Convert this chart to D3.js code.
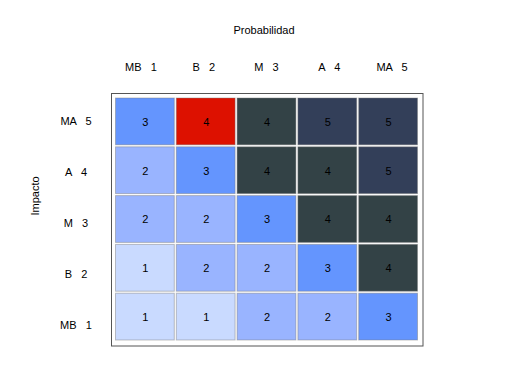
<!DOCTYPE html>
<html>
<head>
<meta charset="utf-8">
<style>
    body { margin: 0; background: #fff; }
    text { font-family: Arial, "Liberation Sans", sans-serif; font-size: 11px; fill: #000; white-space: pre; }
</style>
</head>
<body>
<script src="https://cdn.jsdelivr.net/npm/d3@7"></script>
<script>
    var width = 505, height = 376;

    // datos
    var probLabels = ["MB   1", "B   2", "M   3", "A   4", "MA   5"];
    var impLabels = ["MA   5", "A   4", "M   3", "B   2", "MB   1"];
    // filas de arriba (MA 5) a abajo (MB 1)
    var matrix = [
        [3, 4, 4, 5, 5],
        [2, 3, 4, 4, 5],
        [2, 2, 3, 4, 4],
        [1, 2, 2, 3, 4],
        [1, 1, 2, 2, 3]
    ];
    var levels = [1, 2, 3, 4, 5];
    var levelColors = ["#c9daff", "#99b4ff", "#6495fe", "#334246", "#333f59"];
    var highlight = { row: 0, col: 1, color: "#dd1100" };

    var cells = [];
    matrix.forEach(function (r, i) {
        r.forEach(function (v, j) {
            cells.push({ row: i, col: j, value: v });
        });
    });

    var svg = d3.select("body").append("svg")
        .attr("width", width)
        .attr("height", height);

    var x = d3.scaleBand().domain(d3.range(5)).range([115, 419]);
    var y = d3.scaleBand().domain(d3.range(5)).range([97.5, 341.5]);
    var color = d3.scaleOrdinal().domain(levels).range(levelColors);

    // posiciones de las etiquetas
    var xl = d3.scalePoint().domain(d3.range(5)).range([141, 392]);
    var yl = d3.scalePoint().domain(d3.range(5)).range([121, 325]);

    svg.append("rect")
        .attr("x", 111.5).attr("y", 93.5)
        .attr("width", 311.5).attr("height", 252.5)
        .attr("fill", "none")
        .attr("stroke", "#555")
        .attr("stroke-width", 1);

    svg.selectAll(".cell")
        .data(cells)
        .enter()
        .append("rect")
        .attr("class", "cell")
        .attr("x", d => x(d.col) + 0.5)
        .attr("y", d => y(d.row) + 0.5)
        .attr("width", x.bandwidth() - 2)
        .attr("height", y.bandwidth() - 2)
        .attr("fill", function (d) {
            if (d.row == highlight.row && d.col == highlight.col) return highlight.color;
            return color(d.value);
        })
        .attr("stroke", "rgba(120,120,120,0.45)")
        .attr("stroke-width", 1);

    svg.selectAll(".val")
        .data(cells)
        .enter()
        .append("text")
        .attr("class", "val")
        .attr("x", d => x(d.col) + x.bandwidth() / 2)
        .attr("y", d => y(d.row) + y.bandwidth() / 2)
        .attr("text-anchor", "middle")
        .attr("dy", "0.35em")
        .text(d => d.value);

    svg.selectAll(".xlab")
        .data(probLabels)
        .enter()
        .append("text")
        .attr("class", "xlab")
        .attr("x", (d, i) => xl(i))
        .attr("y", 71)
        .attr("text-anchor", "middle")
        .text(d => d);

    svg.selectAll(".ylab")
        .data(impLabels)
        .enter()
        .append("text")
        .attr("class", "ylab")
        .attr("x", 76)
        .attr("y", (d, i) => yl(i))
        .attr("text-anchor", "middle")
        .attr("dy", "0.35em")
        .text(d => d);

    svg.append("text")
        .attr("x", 264)
        .attr("y", 34)
        .attr("text-anchor", "middle")
        .text("Probabilidad");

    svg.append("text")
        .attr("transform", "translate(39,196) rotate(-90)")
        .attr("text-anchor", "middle")
        .text("Impacto");
</script>
</body>
</html>
